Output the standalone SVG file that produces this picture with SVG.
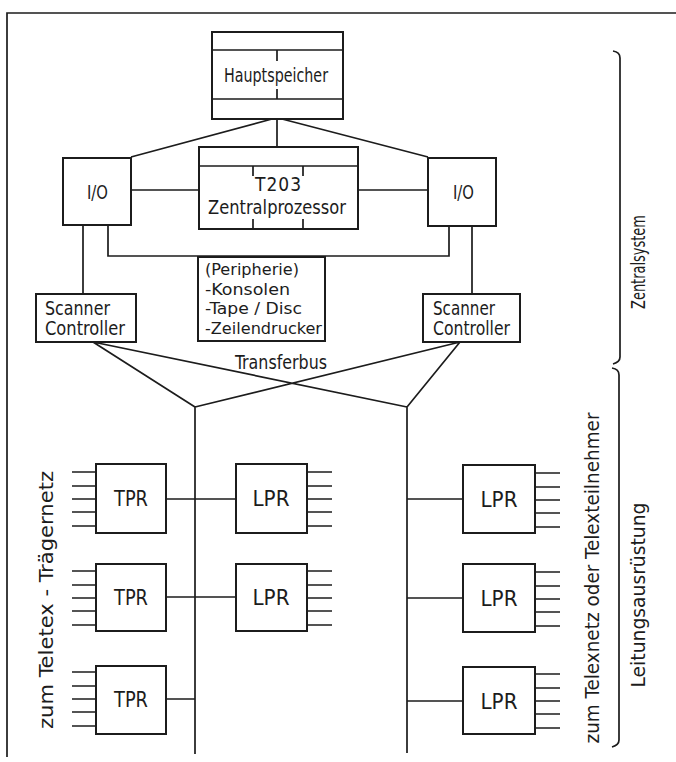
<svg xmlns="http://www.w3.org/2000/svg" width="676" height="762" viewBox="0 0 676 762">
  <style>
    .box { fill: #ffffff; stroke: #1c1c1c; stroke-width: 2; }
    .ln { fill: none; stroke: #1c1c1c; stroke-width: 1.7; }
    .thin { fill: none; stroke: #1c1c1c; stroke-width: 1.5; }
    text { font-family: "DejaVu Sans Condensed", "DejaVu Sans", "Liberation Sans", sans-serif; font-stretch: condensed; font-size: 19px; fill: #1c1c1c; }
    .mid { text-anchor: middle; }
    .big { font-size: 21px; }
    .vert { font-size: 20px; }
    .list { font-size: 16.5px; }
  </style>
  <defs>
    <!-- five line stubs of a line processor, drawn from the box edge outwards -->
    <g id="stubsR">
      <path class="thin" d="M0,8 H25 M0,22 H25 M0,35 H25 M0,48 H25 M0,62 H25"/>
    </g>
    <g id="stubsL">
      <path class="thin" d="M0,8 H-24 M0,22 H-24 M0,35 H-24 M0,48 H-24 M0,62 H-24"/>
    </g>
  </defs>

  <rect width="676" height="762" fill="#ffffff"/>

  <!-- page frame -->
  <path class="ln" d="M7,757 V13 H676"/>

  <!-- connectors -->
  <g id="connectors">
    <path class="ln" d="M272,119 L131,157 M282,119 L428,157 M277,119 V147"/>
    <path class="ln" d="M131,190 H199 M358,190 H428"/>
    <path class="ln" d="M108,225 V256 H449 V226"/>
    <path class="ln" d="M83,225 V294 M472,226 V294"/>
    <!-- transfer bus -->
    <path class="ln" d="M93,342 L195,407 V754 M93,342 L407,407 M460,342 L195,407 M460,342 L407,407 V753"/>
    <path class="ln" d="M166,499 H236 M166,597 H236 M166,699 H195"/>
    <path class="ln" d="M407,499 H463 M407,598 H463 M407,701 H463"/>
  </g>

  <g id="hauptspeicher">
    <rect class="box" x="212" y="32" width="131" height="87"/>
    <path class="ln" d="M212,50 H343 M212,99 H343 M277,50 V61 M277,89 V99"/>
    <text class="mid" x="276" y="82" textLength="104" lengthAdjust="spacingAndGlyphs">Hauptspeicher</text>
  </g>

  <g id="zentralprozessor">
    <rect class="box" x="199" y="147" width="159" height="82"/>
    <path class="ln" d="M199,166 H358 M253,166 V176 M303,166 V176 M253,219 V229 M303,219 V229"/>
    <text class="mid" x="278" y="191" textLength="46" lengthAdjust="spacing">T203</text>
    <text class="mid" x="277" y="214" textLength="138" lengthAdjust="spacingAndGlyphs">Zentralprozessor</text>
  </g>

  <g id="io-links">
    <rect class="box" x="63" y="158" width="68" height="67"/>
    <text x="87" y="199" textLength="21" lengthAdjust="spacingAndGlyphs">I/O</text>
  </g>

  <g id="io-rechts">
    <rect class="box" x="428" y="158" width="68" height="68"/>
    <text x="453" y="199" textLength="21" lengthAdjust="spacingAndGlyphs">I/O</text>
  </g>

  <g id="peripherie">
    <rect class="box" x="198" y="257" width="127" height="84"/>
    <text class="list" x="205" y="275" textLength="94" lengthAdjust="spacingAndGlyphs">(Peripherie)</text>
    <text class="list" x="205" y="294.5" textLength="85" lengthAdjust="spacingAndGlyphs">-Konsolen</text>
    <text class="list" x="205" y="314" textLength="97" lengthAdjust="spacingAndGlyphs">-Tape / Disc</text>
    <text class="list" x="205" y="333.5" textLength="117" lengthAdjust="spacingAndGlyphs">-Zeilendrucker</text>
  </g>

  <g id="scanner-links">
    <rect class="box" x="36" y="294" width="100" height="48"/>
    <text x="45" y="315" textLength="65" lengthAdjust="spacingAndGlyphs">Scanner</text>
    <text x="45" y="335" textLength="80" lengthAdjust="spacingAndGlyphs">Controller</text>
  </g>

  <g id="scanner-rechts">
    <rect class="box" x="423" y="294" width="97" height="48"/>
    <text x="433" y="315" textLength="62" lengthAdjust="spacingAndGlyphs">Scanner</text>
    <text x="433" y="335" textLength="77" lengthAdjust="spacingAndGlyphs">Controller</text>
  </g>

  <g id="transferbus-label">
    <text x="235" y="369" textLength="92" lengthAdjust="spacingAndGlyphs">Transferbus</text>
  </g>

  <!-- trunk processors, left column -->
  <g id="tpr-1">
    <rect class="box" x="96" y="464" width="70" height="69"/>
    <use href="#stubsL" x="96" y="464"/>
    <text class="mid big" x="131" y="506" textLength="34" lengthAdjust="spacingAndGlyphs">TPR</text>
  </g>
  <g id="tpr-2">
    <rect class="box" x="96" y="564" width="70" height="67"/>
    <use href="#stubsL" x="96" y="563"/>
    <text class="mid big" x="131" y="605" textLength="34" lengthAdjust="spacingAndGlyphs">TPR</text>
  </g>
  <g id="tpr-3">
    <rect class="box" x="96" y="666" width="70" height="68"/>
    <use href="#stubsL" x="96" y="664"/>
    <text class="mid big" x="131" y="707" textLength="34" lengthAdjust="spacingAndGlyphs">TPR</text>
  </g>

  <!-- line processors, middle column -->
  <g id="lpr-1">
    <rect class="box" x="236" y="464" width="71" height="69"/>
    <use href="#stubsR" x="307" y="464"/>
    <text class="mid big" x="271" y="506" textLength="37" lengthAdjust="spacingAndGlyphs">LPR</text>
  </g>
  <g id="lpr-2">
    <rect class="box" x="236" y="564" width="71" height="67"/>
    <use href="#stubsR" x="307" y="563"/>
    <text class="mid big" x="271" y="605" textLength="37" lengthAdjust="spacingAndGlyphs">LPR</text>
  </g>

  <!-- line processors, right column -->
  <g id="lpr-3">
    <rect class="box" x="463" y="465" width="72" height="68"/>
    <use href="#stubsR" x="535" y="465"/>
    <text class="mid big" x="499" y="507" textLength="37" lengthAdjust="spacingAndGlyphs">LPR</text>
  </g>
  <g id="lpr-4">
    <rect class="box" x="463" y="564" width="72" height="68"/>
    <use href="#stubsR" x="535" y="564"/>
    <text class="mid big" x="499" y="606" textLength="37" lengthAdjust="spacingAndGlyphs">LPR</text>
  </g>
  <g id="lpr-5">
    <rect class="box" x="463" y="667" width="72" height="67"/>
    <use href="#stubsR" x="535" y="666"/>
    <text class="mid big" x="499" y="709" textLength="37" lengthAdjust="spacingAndGlyphs">LPR</text>
  </g>

  <!-- section brackets and vertical captions -->
  <g id="zentralsystem">
    <path class="ln" d="M613,51 Q620,52 620,58 V357 Q620,362 613,364"/>
    <text class="mid vert" transform="translate(645,262) rotate(-90)" textLength="94" lengthAdjust="spacingAndGlyphs">Zentralsystem</text>
  </g>
  <g id="leitungsausruestung">
    <path class="ln" d="M612,368 Q619,369 619,375 V740 Q619,745 612,747"/>
    <text class="mid vert" transform="translate(645,595) rotate(-90)" textLength="185" lengthAdjust="spacingAndGlyphs">Leitungsausrüstung</text>
  </g>
  <g id="telexnetz">
    <text class="mid vert" transform="translate(599,578) rotate(-90)" textLength="331" lengthAdjust="spacingAndGlyphs">zum Telexnetz oder Telexteilnehmer</text>
  </g>
  <g id="teletexnetz">
    <text class="mid vert" transform="translate(53,600) rotate(-90)" textLength="258" lengthAdjust="spacingAndGlyphs">zum Teletex - Trägernetz</text>
  </g>
</svg>
